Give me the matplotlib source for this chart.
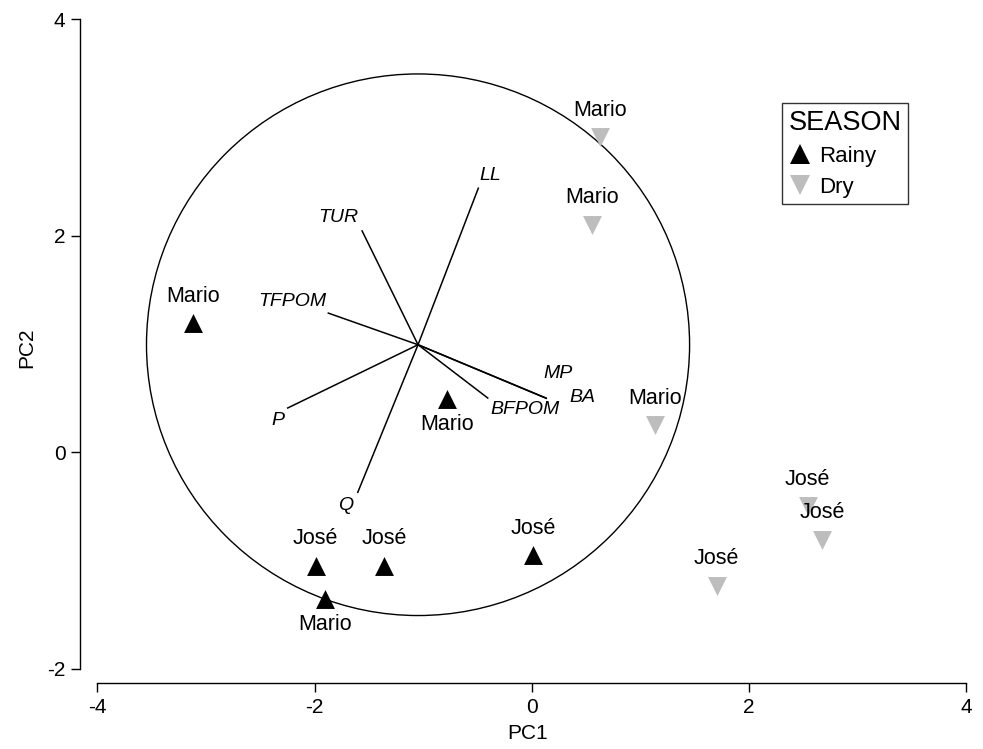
import matplotlib
matplotlib.use("Agg")
import matplotlib.pyplot as plt
from matplotlib.patches import Circle
from matplotlib.lines import Line2D

plt.rcParams["font.family"] = ["Liberation Sans", "DejaVu Sans"]
plt.rcParams["axes.unicode_minus"] = False

# sample scores (PC1, PC2)
rainy_x = [-3.12, -0.78, -1.99, -1.36, 0.01, -1.90]
rainy_y = [1.19, 0.49, -1.05, -1.05, -0.95, -1.35]
rainy_site = ["Mario", "Mario", "José", "José", "José", "Mario"]
rainy_side = ["above", "below", "above", "above", "above", "below"]

dry_x = [0.63, 0.55, 1.13, 1.70, 2.54, 2.67]
dry_y = [2.91, 2.10, 0.25, -1.23, -0.50, -0.81]
dry_site = ["Mario", "Mario", "Mario", "José", "José", "José"]
dry_side = ["above", "above", "above", "above", "above", "above"]

# variable vectors: origin, tips and label anchors
origin = (-1.048, 0.993)
circle_r = 2.50
var_names = ["LL", "TUR", "TFPOM", "P", "Q", "BFPOM", "MP", "BA"]
var_tip_x = [-0.493, -1.563, -1.874, -2.248, -1.603, -0.406, 0.131, 0.132]
var_tip_y = [2.438, 2.044, 1.285, 0.409, -0.370, 0.501, 0.501, 0.498]
var_lab_x = [-0.385, -1.785, -2.208, -2.337, -1.711, -0.063, 0.241, 0.462]
var_lab_y = [2.551, 2.164, 1.389, 0.292, -0.490, 0.393, 0.725, 0.504]

fig = plt.figure(figsize=(9.83, 7.49), dpi=100)
ax = fig.add_axes([0.0814, 0.0881, 0.9105, 0.8959])
ax.set_xlim(-4.16, 4.08)
ax.set_ylim(-2.13, 4.065)

gray = "#bdbdbd"

ax.add_patch(Circle(origin, circle_r, fill=False, edgecolor="black", linewidth=1.0))

for tx, ty in zip(var_tip_x, var_tip_y):
    ax.plot([origin[0], tx], [origin[1], ty], color="black", linewidth=1.1)
for name, lx, ly in zip(var_names, var_lab_x, var_lab_y):
    ax.text(lx, ly, name, fontsize=14, style="italic", ha="center", va="center")

ax.scatter(rainy_x, rainy_y, marker="^", s=185, color="black", zorder=3, linewidths=0)
ax.scatter(dry_x, dry_y, marker="v", s=185, color=gray, zorder=3, linewidths=0)

def put_labels(xs, ys, names, sides):
    for x, y, n, side in zip(xs, ys, names, sides):
        dy = 19.5 if side == "above" else -18.5
        ax.annotate(n, (x, y), xytext=(0, dy), textcoords="offset points",
                    ha="center", va="center", fontsize=15.5, zorder=4)

put_labels(rainy_x, rainy_y, rainy_site, rainy_side)
put_labels(dry_x, dry_y, dry_site, dry_side)

for side in ["top", "right"]:
    ax.spines[side].set_visible(False)
ax.spines["left"].set_bounds(-2, 4)
ax.spines["bottom"].set_bounds(-4, 4)
ax.spines["left"].set_linewidth(1.0)
ax.spines["bottom"].set_linewidth(1.0)
ax.set_xticks([-4, -2, 0, 2, 4])
ax.set_yticks([-2, 0, 2, 4])
ax.tick_params(length=6.5, width=1.0, labelsize=15, pad=4)
ax.set_xlabel("PC1", fontsize=15, labelpad=5)
ax.set_ylabel("PC2", fontsize=15, labelpad=8)

handles = [
    Line2D([], [], linestyle="none", marker="^", markersize=14, color="black", markeredgewidth=0),
    Line2D([], [], linestyle="none", marker="v", markersize=14, color=gray, markeredgewidth=0),
]
leg = fig.legend(handles, ["Rainy", "Dry"], title="SEASON", loc="upper left",
                 bbox_to_anchor=(782 / 983, 1 - 103 / 749), bbox_transform=fig.transFigure,
                 borderaxespad=0, fontsize=16, title_fontsize=19.5, frameon=True, fancybox=False,
                 handlelength=1.0, handletextpad=0.35, borderpad=0.3, labelspacing=0.45)
leg.get_frame().set_edgecolor("black")
leg.get_frame().set_linewidth(1.0)
leg._legend_box.align = "left"

fig.savefig("out.png", dpi=100)
